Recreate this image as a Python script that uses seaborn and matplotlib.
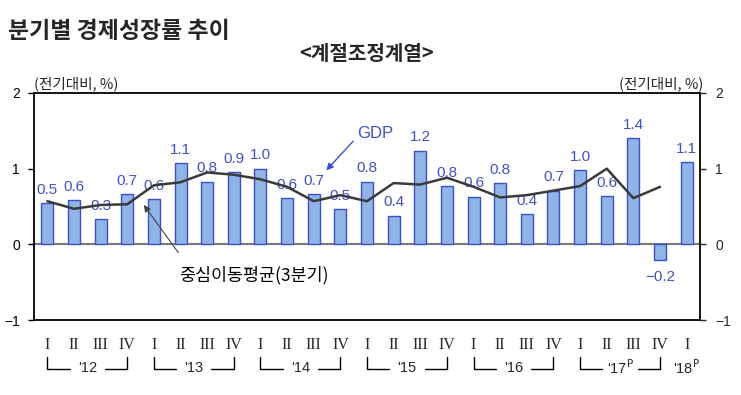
import matplotlib
matplotlib.use("Agg")
import matplotlib.pyplot as plt
import matplotlib.transforms as mtransforms
import seaborn as sns
import pandas as pd
import numpy as np

# ---- data ----
quarters = ["I", "II", "III", "IV"] * 6 + ["I"]
years = ["'12", "'13", "'14", "'15", "'16", r"'17$^{\mathrm{P}}$"]
last_year = r"'18$^{\mathrm{P}}$"
gdp = [0.54, 0.58, 0.33, 0.66, 0.60, 1.07, 0.83, 0.95, 1.00, 0.61, 0.66, 0.47,
       0.83, 0.38, 1.24, 0.77, 0.63, 0.81, 0.40, 0.71, 0.98, 0.64, 1.40, -0.21, 1.09]
gdp_labels = ["0.5", "0.6", "0.3", "0.7", "0.6", "1.1", "0.8", "0.9", "1.0", "0.6", "0.7", "0.5",
              "0.8", "0.4", "1.2", "0.8", "0.6", "0.8", "0.4", "0.7", "1.0", "0.6", "1.4", "\u22120.2", "1.1"]
moving_avg = [0.57, 0.47, 0.52, 0.53, 0.78, 0.82, 0.95, 0.92, 0.86, 0.76, 0.57, 0.65,
              0.57, 0.81, 0.79, 0.88, 0.76, 0.62, 0.65, 0.71, 0.77, 1.00, 0.61, 0.76]
yticks = [-1, 0, 1, 2]

KR = ["Noto Sans CJK KR", "DejaVu Sans"]
NUM = ["Liberation Sans", "DejaVu Sans"]
SERIF = ["Liberation Serif", "DejaVu Serif"]
BAR_FILL = "#8FB4E6"
BAR_EDGE = "#3A4FCC"
LABEL_C = "#3F50C8"

sns.set_theme(style="white")
plt.rcParams["font.family"] = NUM

W, H = 741, 395
fig = plt.figure(figsize=(W / 100, H / 100), dpi=100)
ax = fig.add_axes([34 / W, 1 - 320 / H, (700 - 34) / W, (320 - 93) / H])

n = len(gdp)
df = pd.DataFrame({"pos": np.arange(n), "gdp": gdp})
sns.barplot(data=df, x="pos", y="gdp", ax=ax, color=BAR_FILL, width=0.45,
            edgecolor=BAR_EDGE, linewidth=1.0, saturation=1.0, zorder=2)
for p in ax.patches:
    p.set_facecolor(BAR_FILL)

dfl = pd.DataFrame({"pos": np.arange(len(moving_avg)), "ma": moving_avg})
sns.lineplot(data=dfl, x="pos", y="ma", ax=ax, color="#3a3a3a", linewidth=1.8, zorder=4)

ax.axhline(0, color="#7a7a7a", linewidth=1.5, zorder=1)

ax.set_xlim(-0.5, n - 0.5)
ax.set_ylim(-1, 2)
ax.set_yticks(yticks)
ax.set_yticklabels([("\u2212" + str(-t)) if t < 0 else str(t) for t in yticks])
ax.set_xticks(np.arange(n))
ax.set_xticklabels(quarters, fontfamily=SERIF, fontsize=11.5)
ax.set_xlabel("")
ax.set_ylabel("")
ax.tick_params(axis="x", length=0, pad=12)
ax.tick_params(axis="y", direction="out", length=4, width=1, pad=6, labelsize=10,
               colors="black", left=True)
for s in ax.spines.values():
    s.set_color("black")
    s.set_linewidth(1.3)

ax2 = ax.twinx()
ax2.set_ylim(-1, 2)
ax2.set_yticks(yticks)
ax2.set_yticklabels([("\u2212" + str(-t)) if t < 0 else str(t) for t in yticks])
ax2.tick_params(axis="y", direction="out", length=4, width=1, pad=7, labelsize=10, right=True)
ax2.grid(False)
for s in ax2.spines.values():
    s.set_visible(False)

# value labels
for i, (v, lab) in enumerate(zip(gdp, gdp_labels)):
    off = 9.5 if v >= 0 else -12
    ax.annotate(lab, (i, v), xytext=(0, off), textcoords="offset points",
                ha="center", va="center", fontsize=11, color=LABEL_C, zorder=3)

# annotations
ax.annotate("", xy=(10.4, 0.95), xytext=(11.55, 1.39),
            arrowprops=dict(arrowstyle="-|>", color="#3A4FD8", lw=1.0, mutation_scale=10))
ax.text(12.3, 1.47, "GDP", color="#3A4FD8", fontsize=12, ha="center", va="center")
ax.annotate("", xy=(3.56, 0.55), xytext=(4.98, -0.14),
            arrowprops=dict(arrowstyle="-|>", color="#444444", lw=0.8, mutation_scale=10))
ax.text(4.94, -0.41, "중심이동평균(3분기)", fontfamily=KR, fontsize=12.5,
        ha="left", va="center", color="black")

# year brackets
trans = mtransforms.blended_transform_factory(ax.transData, fig.transFigure)
y_top = 1 - 357 / H
y_bot = 1 - 369 / H
y_txt = 1 - 368 / H
for k, yr in enumerate(years):
    a = 4 * k
    b = a + 3
    mid = (a + b) / 2
    gap = 0.66
    ax.plot([a, a, mid - gap], [y_top, y_bot, y_bot], color="black", lw=1.0,
            transform=trans, clip_on=False)
    ax.plot([mid + gap, b, b], [y_bot, y_bot, y_top], color="black", lw=1.0,
            transform=trans, clip_on=False)
    ax.text(mid, y_txt, yr, transform=trans, ha="center", va="center", fontsize=10.5)
ax.text(n - 1, y_txt, last_year, transform=trans, ha="center", va="center", fontsize=10.5)

# titles and units
fig.text(8 / W, 1 - 31 / H, "분기별 경제성장률 추이", fontfamily=KR, fontsize=16.5,
         fontweight="bold", ha="left", va="center")
fig.text(367 / W, 1 - 53 / H, "<계절조정계열>", fontfamily=KR, fontsize=14.5,
         fontweight="bold", ha="center", va="center")
fig.text(34 / W, 1 - 84 / H, "(전기대비, %)", fontfamily=KR, fontsize=10.5,
         ha="left", va="center")
fig.text(703 / W, 1 - 84 / H, "(전기대비, %)", fontfamily=KR, fontsize=10.5,
         ha="right", va="center")

fig.savefig("out.png", dpi=100, facecolor="white")
